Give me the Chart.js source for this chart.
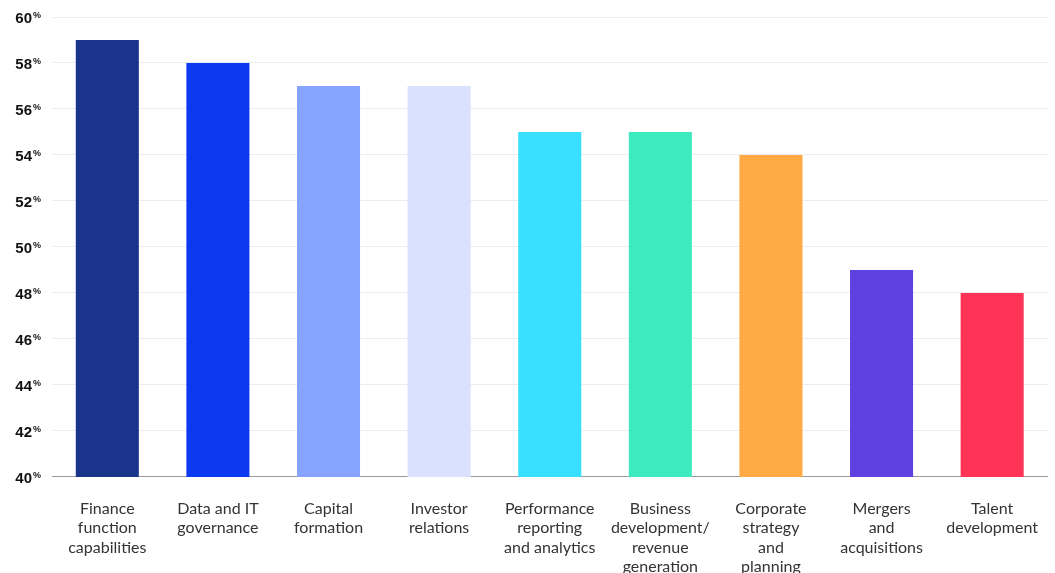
<!DOCTYPE html>
<html>
<head>
<meta charset="utf-8">
<script src="https://cdn.jsdelivr.net/npm/chart.js@4"></script>
<style>
  html, body { margin: 0; padding: 0; background: #fff; overflow: hidden; }
  #wrap { position: relative; width: 1060px; height: 599px; }
</style>
</head>
<body>
<div id="wrap"><canvas id="barChart"></canvas></div>
<script>
// Share of respondents per area (percent)
const categories = [
    ["Finance", "function", "capabilities"],
    ["Data and IT", "governance"],
    ["Capital", "formation"],
    ["Investor", "relations"],
    ["Performance", "reporting", "and analytics"],
    ["Business", "development/", "revenue", "generation"],
    ["Corporate", "strategy", "and", "planning"],
    ["Mergers", "and", "acquisitions"],
    ["Talent", "development"]
];
const values = [59, 58, 57, 57, 55, 55, 54, 49, 48];
const barColors = ['#1a348b', '#0b3af0', '#85a3ff', '#d9e1ff', '#38dfff', '#3de9bf', '#ffaa44', '#5e41e0', '#ff3355'];
const yTicks = [40, 42, 44, 46, 48, 50, 52, 54, 56, 58, 60];

// y labels drawn by hand so the % sign can sit raised and smaller
const percentTicks = {
    id: 'percentTicks',
    afterDraw(chart) {
        const ctx = chart.ctx;
        const y = chart.scales.y;
        ctx.save();
        ctx.fillStyle = '#111';
        yTicks.forEach(v => {
            const py = y.getPixelForValue(v);
            ctx.font = 'bold 15px "Liberation Sans", Arial, sans-serif';
            ctx.textAlign = 'right';
            ctx.textBaseline = 'middle';
            ctx.fillText(String(v), 32, py + 2);
            ctx.font = 'bold 9px "Liberation Sans", Arial, sans-serif';
            ctx.textAlign = 'left';
            ctx.fillText('%', 33, py - 1);
        });
        ctx.restore();
    }
};

new Chart(document.getElementById('barChart'), {
    type: 'bar',
    data: {
        labels: categories,
        datasets: [{
            data: values,
            backgroundColor: barColors,
            borderWidth: 0,
            barPercentage: 0.57,
            categoryPercentage: 1
        }]
    },
    options: {
        responsive: true,
        maintainAspectRatio: false,
        animation: false,
        layout: { padding: { top: 17, right: 0, left: 0, bottom: 0 } },
        plugins: {
            legend: { display: false },
            tooltip: { enabled: false }
        },
        scales: {
            x: {
                grid: { display: false, drawTicks: false },
                border: { display: true, color: '#9a9a9a', width: 1 },
                ticks: {
                    color: '#333',
                    padding: 22,
                    maxRotation: 0,
                    autoSkip: false,
                    font: { family: 'Lato, "Open Sans", sans-serif', size: 16, lineHeight: 1.22 }
                }
            },
            y: {
                min: 40,
                max: 60,
                afterFit(scale) { scale.width = 52; },
                grid: { color: '#ececec', drawTicks: false },
                border: { display: false },
                ticks: { stepSize: 2, display: false }
            }
        }
    },
    plugins: [percentTicks]
});
</script>
</body>
</html>
